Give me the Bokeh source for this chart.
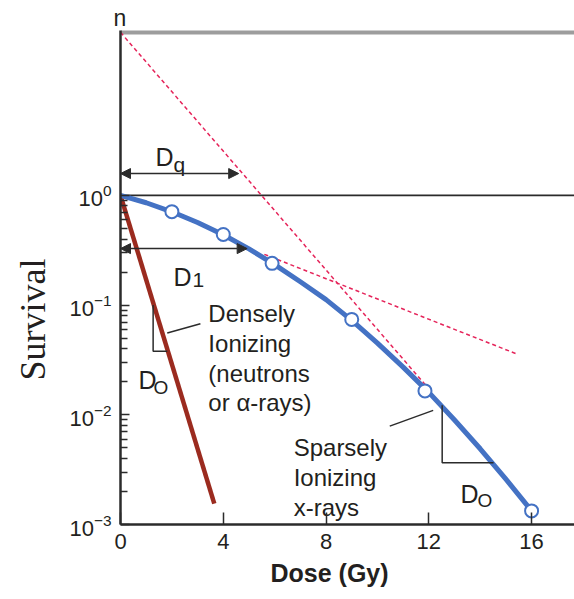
from bokeh.plotting import figure
from bokeh.models import (Range1d, FixedTicker, Span, Arrow, NormalHead, Title)
from bokeh.core.properties import value
from bokeh.embed import file_html
from bokeh.resources import INLINE

# ---- data ----
dose_curve = [0, 1, 2, 3, 4, 5, 6, 7, 8, 9, 10, 11, 12, 13, 14, 15, 16]
surv_curve = [1.0, 0.856, 0.708, 0.566, 0.437, 0.325, 0.234, 0.163, 0.112,
              0.0725, 0.0450, 0.0272, 0.0160, 0.00896, 0.0049, 0.00259, 0.00133]
dose_pts = [2.0, 4.0, 5.9, 9.0, 11.85, 16.0]
surv_pts = [0.71, 0.44, 0.24, 0.074, 0.0165, 0.00133]
dose_dense = [0.0, 3.65]
surv_dense = [1.0, 0.00155]
dose_dash_steep = [0.0, 12.1]
surv_dash_steep = [30.6, 0.0162]
dose_dash_shallow = [5.6, 15.4]
surv_dash_shallow = [0.29, 0.036]
n_value = 30.6
y_ticks = [1e-3, 1e-2, 1e-1, 1.0]
x_ticks = [0, 4, 8, 12, 16]

BLUE = "#4472c4"
RED = "#9b2b1f"
PINK = "#e5245a"
INK = "#231f20"
FONT = "Liberation Sans"

p = figure(width=574, height=599, output_backend="svg", toolbar_location=None,
           y_axis_type="log", x_range=Range1d(0, 17.67), y_range=Range1d(1e-3, 31.8),
           min_border_left=120, min_border_right=0, min_border_top=30,
           min_border_bottom=75)
p.outline_line_color = None
p.grid.visible = False
p.background_fill_color = "white"

# "n" marker above the axis, as the title
p.title.text = "n"
p.title.align = "left"
p.title.offset = -7
p.title.standoff = 0
p.title.text_font = FONT
p.title.text_font_size = "23px"
p.title.text_font_style = "normal"
p.title.text_color = INK

# axes
minor = [m * 10.0 ** e for e in (-3, -2, -1) for m in range(2, 10)]
p.yaxis.ticker = FixedTicker(ticks=y_ticks, minor_ticks=minor)
p.xaxis.ticker = FixedTicker(ticks=x_ticks)
for ax in (p.xaxis, p.yaxis):
    ax.axis_line_width = 2.5
    ax.axis_line_color = "#2b2b2b"
    ax.major_tick_line_color = "#2b2b2b"
    ax.minor_tick_line_color = "#2b2b2b"
    ax.major_tick_line_width = 1.5
    ax.minor_tick_line_width = 1.5
    ax.major_tick_out = 0
    ax.minor_tick_out = 0
    ax.major_label_text_color = INK
    ax.major_label_text_font = FONT
p.yaxis.major_tick_in = 9
p.yaxis.minor_tick_in = 7
p.yaxis.major_label_text_font_size = "22px"
p.yaxis.major_label_standoff = 9
p.xaxis.major_tick_in = 12
p.xaxis.minor_tick_in = 0
p.xaxis.major_label_text_font_size = "22px"
p.xaxis.major_label_standoff = 9

p.add_layout(Title(text="Survival", align="left", offset=144, standoff=23,
                   vertical_align="top",
                   text_font="Liberation Serif", text_font_size="36px",
                   text_font_style="normal", text_color=INK), "left")
p.add_layout(Title(text="Dose (Gy)", align="left", offset=150, standoff=11,
                   text_font=FONT, text_font_size="25px",
                   text_font_style="bold", text_color=INK), "below")

# reference lines
p.add_layout(Span(location=n_value, dimension="width", line_color="#9d9d9d",
                  line_width=4.5, level="underlay"))
p.add_layout(Span(location=1.0, dimension="width", line_color="#2b2b2b",
                  line_width=1.8, level="underlay"))

# dashed extrapolations
p.line(dose_dash_steep, surv_dash_steep, line_color=PINK, line_width=1.5, line_dash="4 3")
p.line(dose_dash_shallow, surv_dash_shallow, line_color=PINK, line_width=1.5, line_dash="4 3")

# curves
p.line(dose_dense, surv_dense, line_color=RED, line_width=4.5)
p.line(dose_curve, surv_curve, line_color=BLUE, line_width=5, line_join="round")
p.scatter(dose_pts, surv_pts, size=13, fill_color="white", line_color=BLUE, line_width=2)

# D0 brackets and leader lines
p.line([1.27, 1.27, 1.82], [10 ** -1.0, 10 ** -1.422, 10 ** -1.422], line_color="#2b2b2b", line_width=1.5)
p.line([12.52, 12.52, 14.52], [10 ** -1.914, 10 ** -2.437, 10 ** -2.437], line_color="#2b2b2b", line_width=1.5)
p.line([1.82, 3.11], [10 ** -1.255, 10 ** -1.170], line_color="#2b2b2b", line_width=1.5)
p.line([10.48, 12.17], [10 ** -2.103, 10 ** -1.96], line_color="#2b2b2b", line_width=1.5)

# arrows
for yv, xe in ((1.58, 4.6), (0.327, 4.93)):
    p.add_layout(Arrow(x_start=0, y_start=yv, x_end=xe, y_end=yv,
                       line_color="#2b2b2b", line_width=1.5,
                       start=NormalHead(size=10, fill_color="#2b2b2b", line_color="#2b2b2b"),
                       end=NormalHead(size=10, fill_color="#2b2b2b", line_color="#2b2b2b")))

def txt(x, y, s, size):
    p.text([x], [y], text=[s], text_font=value(FONT), text_font_size=size,
           text_color=INK, text_baseline="alphabetic", text_align="left")

# labels
txt(1.36, 2.22, "D", "25px"); txt(2.06, 1.90, "q", "21px")
txt(2.06, 0.179, "D", "25px"); txt(2.80, 0.168, "1", "21px")
txt(0.70, 0.0206, "D", "25px"); txt(1.28, 0.0178, "O", "19px")
txt(13.23, 0.00188, "D", "25px"); txt(13.89, 0.00166, "O", "19px")

txt(3.42, 0.0840, "Densely", "24px")
txt(3.42, 0.0448, "Ionizing", "24px")
txt(3.42, 0.0238, "(neutrons", "24px")
txt(3.42, 0.01297, "or \u03b1-rays)", "24px")
txt(6.74, 0.00508, "Sparsely", "24px")
txt(6.74, 0.0027, "Ionizing", "24px")
txt(6.74, 0.00144, "x-rays", "24px")

open("out.html", "w").write(file_html(p, INLINE))
